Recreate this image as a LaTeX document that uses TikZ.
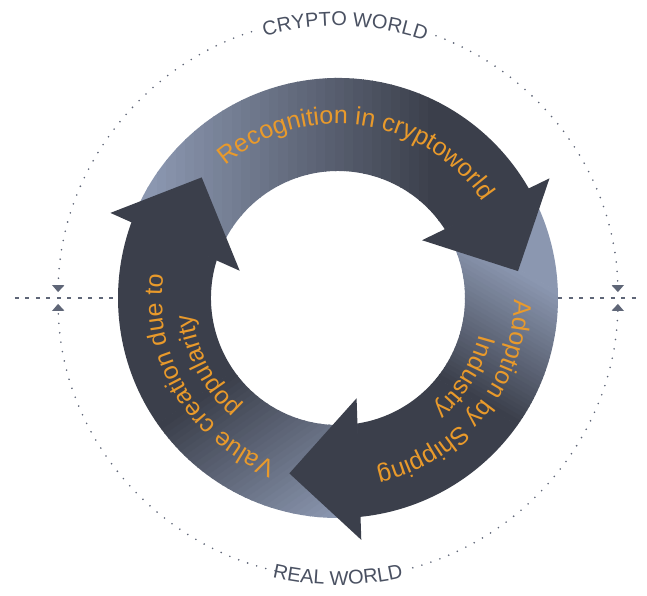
\documentclass[tikz,border=0pt]{standalone}
\usepackage{fontspec}
\setmainfont{Liberation Sans}
\usetikzlibrary{arrows.meta,decorations.text}

\definecolor{ringlight}{HTML}{8B97B0}
\definecolor{ringdark}{HTML}{3B3F4B}
\definecolor{stageorange}{HTML}{E99A2B}
\definecolor{worldgray}{HTML}{4A5162}
\definecolor{guidegray}{HTML}{5F6677}

% one band of the ring, from the head base #1 to the head base #2
\newcommand{\ringband}[2]{(#1-2.6:220) arc[start angle=#1-2.6, end angle=#2-2.6, radius=220] -- (#2+0.6:127) arc[start angle=#2+0.6, end angle=#1+0.6, radius=127] -- cycle}

\begin{document}
\begin{tikzpicture}[x=1pt, y=1pt,
    guide/.style = {guidegray, line width=1.8pt, line cap=round, dash pattern=on 0pt off 9.5pt},
    marker/.style = {-{Triangle[width=12pt, length=7pt]}},
    divider/.style = {guidegray, line width=1.2pt, dash pattern=on 4pt off 6.5pt},
    stagetext/.style = {decorate, decoration={text along path, text align=center,
        text={|\fontsize{25}{30}\selectfont\color{stageorange}|#1}}},
    worldtext/.style = {decorate, decoration={text along path, text align=center,
        text={|\fontsize{20}{24}\selectfont\color{worldgray}|#1}}}]
  \useasboundingbox (-338,-298) rectangle (309,298);

  % horizontal divider
  \coordinate (leftend) at (-323,0);
  \coordinate (rightend) at (302,0);
  \coordinate (ringW) at (180:220);
  \coordinate (ringE) at (0:220);
  \draw[divider] (leftend) -- (ringW);
  \draw[divider] (ringE) -- (rightend);

  % dotted outer circle
  \draw[guide, marker] (108:280) arc[start angle=108, end angle=178.8, radius=280];
  \draw[guide, marker] (69.5:280) arc[start angle=69.5, end angle=1.2, radius=280];
  \draw[guide, marker] (257:280) arc[start angle=257, end angle=181.2, radius=280];
  \draw[guide, marker] (285.5:280) arc[start angle=285.5, end angle=358.8, radius=280];

  \path[worldtext={CRYPTO WORLD}] (123.5:272) arc[start angle=123.5, end angle=53.5, radius=272];
  \path[worldtext={REAL WORLD}] (235:287) arc[start angle=235, end angle=305, radius=287];

  % arrow bodies, light at the tail and dark at the head
  \foreach \tailang/\headang/\dir/\slight/\sdark in {162/32/0/-190/100, 32/-82/-120/-115/20, 278/162/125/-180/0} {
    \begin{scope}
      \clip \ringband{\tailang}{\headang};
      \begin{scope}[rotate=\dir]
        \fill[ringlight] (-400,-400) rectangle (\slight,400);
        \fill[ringdark] (\sdark,-400) rectangle (400,400);
        \foreach \k in {0,...,30} {
          \pgfmathsetmacro{\mixpct}{100*\k/30}
          \fill[ringdark!\mixpct!ringlight] ({\slight+(\sdark-\slight)*\k/31-0.5},-400) rectangle ({\slight+(\sdark-\slight)*(\k+1)/31+0.5},400);
        }
      \end{scope}
    \end{scope}
  }

  % arrow heads
  \foreach \b in {32,-82,162}
    \fill[ringdark] (\b-2.5:243) -- (\b-23.5:182) -- (\b+2.5:102) -- cycle;

  % stage labels
  \path[stagetext={Recognition in cryptoworld}] (142:174) arc[start angle=142, end angle=22, radius=174];
  \path[stagetext={Adoption by Shipping}] (16:176) arc[start angle=16, end angle=-94, radius=176];
  \path[stagetext={Industry}] (-2:146) arc[start angle=-2, end angle=-62, radius=146];
  \path[stagetext={Value creation due to}] (266:176) arc[start angle=266, end angle=156, radius=176];
  \path[stagetext={popularity}] (240:146) arc[start angle=240, end angle=175, radius=146];
\end{tikzpicture}
\end{document}
